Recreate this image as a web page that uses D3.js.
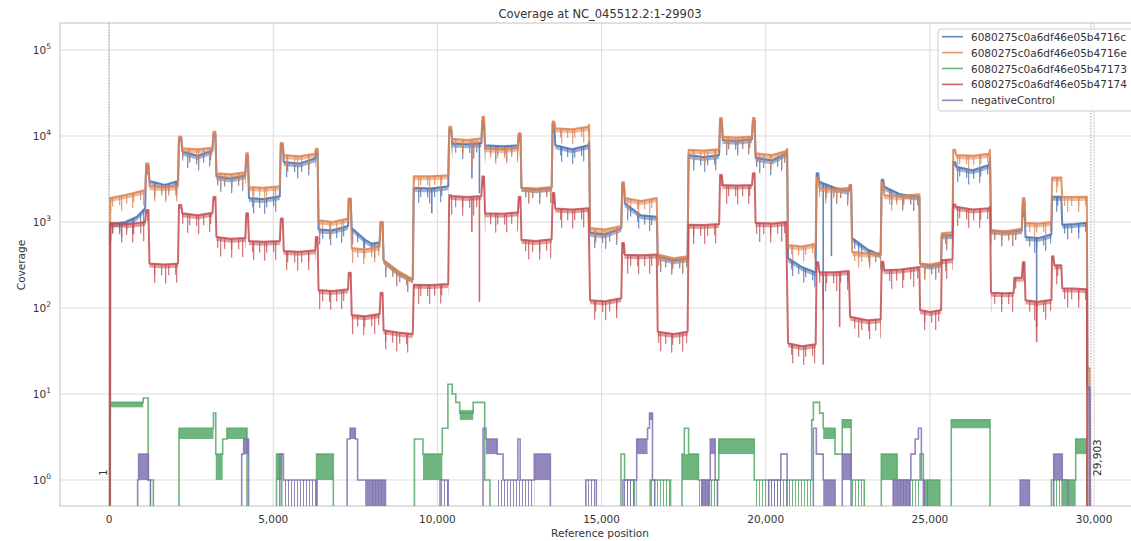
<!DOCTYPE html>
<html><head><meta charset="utf-8">
<script src="https://cdn.jsdelivr.net/npm/d3@7"></script>
<style>body{margin:0;background:#fff;} svg{display:block;font-family:"DejaVu Sans",sans-serif;}</style>
</head><body>
<svg id="c" width="1131" height="541"></svg>
<script>
// ---------------- DATA ----------------
const title = "Coverage at NC_045512.2:1-29903";
const xLabel = "Reference position";
const yLabel = "Coverage";
const seriesNames = ["6080275c0a6df46e05b4716c","6080275c0a6df46e05b4716e","6080275c0a6df46e05b47173","6080275c0a6df46e05b47174","negativeControl"];
const xTicks = [0,5000,10000,15000,20000,25000,30000];
const yTicks = [1,10,100,1000,10000,100000];
const refStart = 1, refEnd = 29903;

// [position, coverage]
const blueCov = [[1,0],[30,0],[35,950],[500,1000],[850,1150],[1100,1450],[1130,4500],[1200,4500],[1230,3000],[1700,2700],[2100,3000],[2130,9500],[2200,9500],[2230,6600],[2700,5900],[3150,6800],[3180,10500],[3240,10500],[3270,3400],[3700,3200],[4150,3500],[4180,5900],[4230,5900],[4260,1900],[4700,1850],[5200,2000],[5230,8000],[5290,8000],[5320,5000],[5800,4800],[6280,5500],[6300,6800],[6350,6800],[6380,820],[6800,800],[7280,900],[7300,1860],[7360,1860],[7390,850],[7800,620],[8000,560],[8240,580],[8270,1000],[8330,1000],[8360,360],[8800,260],[9250,215],[9280,2500],[9800,2450],[10330,2600],[10360,12000],[10420,12000],[10450,8200],[10900,8000],[11340,8300],[11370,15000],[11420,15000],[11450,7800],[12000,7600],[12450,7800],[12480,10500],[12530,10500],[12560,2500],[13000,2400],[13480,2500],[13510,14000],[13560,14000],[13590,7800],[14100,7000],[14600,7800],[14620,8500],[14650,750],[15100,720],[15600,850],[15630,2800],[15680,2800],[15710,1650],[16200,1200],[16680,1150],[16710,400],[17200,360],[17620,380],[17650,6000],[18100,5700],[18580,6000],[18610,15500],[18660,15500],[18690,9000],[19100,8800],[19580,9200],[19610,15000],[19660,15000],[19690,5600],[20200,5200],[20620,6300],[20650,7000],[20680,380],[21100,300],[21520,260],[21550,3700],[21600,3700],[21630,2940],[22100,2500],[22530,2300],[22560,2700],[22600,2700],[22630,650],[23100,480],[23500,415],[23530,3100],[23580,3100],[23610,2570],[24100,2100],[24680,1960],[24700,330],[25000,310],[25340,330],[25360,700],[25690,700],[25710,5000],[25770,5000],[25800,4400],[26300,4000],[26800,4600],[26830,5500],[26860,800],[27300,770],[27800,800],[27830,1700],[27880,1700],[27910,670],[28300,650],[28700,720],[28720,1960],[29000,1960],[29030,930],[29400,950],[29780,980],[29800,12],[29860,12],[29880,0],[29903,0]];

const orangeCov = [[1,0],[30,0],[35,1900],[600,2100],[1100,2350],[1130,4800],[1200,4800],[1230,2600],[1700,2550],[2100,2600],[2130,9800],[2200,9800],[2230,7200],[2700,7000],[3150,7300],[3180,11200],[3240,11200],[3270,3700],[3700,3600],[4150,3800],[4180,6300],[4230,6300],[4260,2550],[4700,2500],[5200,2600],[5230,8300],[5290,8300],[5320,6000],[5800,5800],[6280,6200],[6300,7100],[6350,7100],[6380,1050],[6800,1000],[7280,1100],[7300,1860],[7360,1860],[7390,500],[7800,480],[8240,520],[8270,1000],[8330,1000],[8360,360],[8800,270],[9250,215],[9280,3400],[9800,3400],[10330,3500],[10360,12800],[10420,12800],[10450,9300],[10900,9000],[11340,9400],[11370,16700],[11420,16700],[11450,7200],[12000,7000],[12450,7400],[12480,10800],[12530,10800],[12560,2500],[13000,2450],[13480,2550],[13510,14700],[13560,14700],[13590,12300],[14100,12000],[14600,12800],[14620,13500],[14650,850],[15100,820],[15600,900],[15630,2900],[15680,2900],[15710,1900],[16200,1750],[16680,1900],[16710,420],[17200,380],[17620,400],[17650,6900],[18100,6800],[18580,7000],[18610,16200],[18660,16200],[18690,9800],[19100,9600],[19580,9900],[19610,16200],[19660,16200],[19690,6300],[20200,6000],[20620,6700],[20650,7000],[20680,540],[21100,520],[21520,560],[21550,3300],[21600,3300],[21630,2500],[22100,2400],[22530,2500],[22560,2700],[22600,2700],[22630,450],[23100,430],[23500,440],[23530,2900],[23580,2900],[23610,2050],[24100,2000],[24680,2100],[24700,330],[25000,320],[25340,340],[25360,740],[25690,760],[25710,6900],[25770,6900],[25800,6000],[26300,5900],[26800,6200],[26830,6900],[26860,800],[27300,780],[27800,840],[27830,1900],[27880,1900],[27910,980],[28300,960],[28700,1000],[28720,3300],[29000,3300],[29030,1960],[29400,1950],[29780,1960],[29800,20],[29860,20],[29880,0],[29903,0]];

const redCov = [[1,0],[25,0],[30,980],[600,950],[1100,1000],[1130,1380],[1200,1380],[1230,330],[1700,320],[2100,330],[2130,1580],[2200,1580],[2230,1260],[2700,1200],[3150,1280],[3180,1950],[3240,1950],[3270,670],[3700,640],[4150,650],[4180,1260],[4230,1260],[4260,600],[4700,590],[5200,600],[5230,1100],[5290,1100],[5320,460],[5800,450],[6280,470],[6300,670],[6350,670],[6380,162],[6800,158],[7280,165],[7300,257],[7360,257],[7390,83],[7800,80],[8240,85],[8270,150],[8330,150],[8360,55],[8800,52],[9250,50],[9280,186],[9800,185],[10330,190],[10360,2040],[10420,2040],[10450,2000],[10900,1950],[11340,2000],[11370,3380],[11420,3380],[11450,1260],[12000,1250],[12450,1300],[12480,1960],[12530,1960],[12560,620],[13000,600],[13480,630],[13510,2170],[13560,2170],[13590,1440],[14100,1400],[14600,1450],[14650,123],[15100,120],[15600,130],[15630,570],[15680,570],[15710,415],[16200,410],[16680,420],[16710,53],[17200,50],[17620,53],[17650,930],[18100,920],[18580,950],[18610,3530],[18660,3530],[18690,2700],[19100,2650],[19580,2700],[19610,3700],[19660,3700],[19690,980],[20200,960],[20620,1000],[20680,39],[21100,36],[21520,38],[21550,340],[21600,340],[21630,263],[22100,260],[22530,270],[22570,79],[23100,72],[23500,74],[23530,345],[23580,345],[23610,275],[24100,280],[24680,300],[24700,95],[25000,90],[25340,95],[25360,360],[25690,370],[25710,1600],[25770,1600],[25800,1500],[26300,1400],[26800,1450],[26830,1500],[26860,150],[27300,148],[27550,150],[27570,225],[27800,225],[27830,340],[27880,340],[27910,123],[28300,118],[28700,125],[28720,400],[28760,400],[28790,315],[29000,315],[29030,170],[29400,168],[29780,165],[29790,0],[29903,0]];

// deep single-position dips [position, from, to]
const blueDips = [[9830,2500,1260],[11050,8000,3200],[11280,8300,2150],[21750,2800,95],[22000,2600,400],[28250,650,60]];
const orangeDips = [[11050,9000,4200]];
const redDips = [[11050,1950,770],[11280,2000,118],[21750,263,22],[22250,260,60],[28250,118,40]];

// low-coverage series: steps [start, end, value], filled bands [start, end, low, high], sparse 0/1 toggling [start, end]
const greenSteps = [[30,1040,8],[1040,1190,9],[1190,1350,1],[2130,3180,4],[3180,3250,6],[3250,3460,2],[3460,3590,3],[3590,4200,4],[5100,5260,2],[6320,6830,2],[9300,9560,3],[9560,10150,2],[10150,10320,4],[10320,10450,13],[10450,10560,10],[10560,10680,8],[10680,11090,6],[11090,11440,8],[11440,11600,1],[15590,15700,2],[15700,16000,1],[16480,17100,1],[17450,17520,2],[17520,17650,4],[17650,17950,2],[17950,18570,1],[18570,19650,3],[19650,21400,1],[21400,21450,5],[21450,21640,8],[21640,21750,6],[21750,22110,4],[22110,22330,2],[22330,22600,5],[22600,23000,1],[23520,24000,2],[24000,24700,1],[24700,24800,2],[24800,25300,1],[25650,26830,5],[28700,29440,1],[29440,29780,3]];
const greenBands = [[30,1040,7,8],[2130,3180,3,4],[3590,4200,3,4],[3250,3460,1,2],[5100,5260,1,2],[6330,6820,1,2],[9560,10150,1,2],[10680,11090,5,6.5],[17450,17950,1,2],[18570,19650,2,3],[21750,22110,3,4],[22330,22600,4,5],[23520,24000,1,2],[24800,25300,0,1],[25650,26830,4,5],[29000,29440,0,1],[29440,29780,2,3]];
const greenToggles = [[7950,8300],[15700,16000],[16480,17100],[17950,18570],[19650,21400],[22600,23000],[24000,24700],[28700,29000],[1190,1350]];

const purpleSteps = [[870,900,1],[900,1200,2],[1200,1260,1],[4040,4100,2],[4100,4250,3],[5200,5310,2],[5310,6330,1],[7250,7340,3],[7340,7500,4],[7500,7570,3],[7570,7740,1],[7740,8420,1],[10080,10330,1],[11390,11480,4],[11480,11820,3],[11820,12000,2],[12000,12450,1],[12450,12520,3],[12520,12950,1],[12950,13440,2],[14520,14840,1],[15650,16070,1],[16070,16400,3],[16400,16460,4],[16460,16550,6],[16550,16620,1],[18050,18310,1],[18310,18460,3],[18460,18530,1],[20090,20460,1],[20460,20650,2],[21450,21540,4],[21540,21750,2],[21750,22110,1],[22330,22600,2],[23880,24420,1],[24420,24550,2],[24550,24650,3],[24650,24740,4],[24740,24800,1],[27750,28030,1],[28770,29030,2],[29030,29200,1],[29810,29870,12]];
const purpleBands = [[900,1200,1,2],[4100,4250,2,3],[7340,7500,3,4],[7800,8410,0,1],[11480,11820,2,3],[12950,13440,1,2],[16070,16400,2,3],[16460,16550,5,6],[18050,18310,0,1],[18310,18460,2,3],[21750,22110,0,1],[22330,22600,1,2],[23880,24420,0,1],[27750,28030,0,1],[28770,29030,1,2]];
const purpleToggles = [[5310,6330],[10080,10330],[11820,12000],[12000,12950],[14520,14840],[15650,16070],[20090,20460],[24800,25000]];

// ---------------- LAYOUT / STYLE ----------------
const W = 1131, H = 541;
const L = 60, R = 1140, T = 23, B = 506;
const colors = ["#4C72B0","#DD8452","#55A868","#C44E52","#8172B3"];
const textColor = "#333";
const fs = 10.5;

const svg = d3.select("#c");
const x = d3.scaleLinear().domain([refStart - 1495, refEnd + 1495]).range([L, R]);
const y = d3.scaleLog().domain([Math.pow(10,-26/86), Math.pow(10, 5 + 27/86)]).range([B, T]);
const yPos = v => v > 0 ? y(v) : B + 10;

const defs = svg.append("defs");
defs.append("clipPath").attr("id","clip").append("rect").attr("x",L).attr("y",T).attr("width",R-L).attr("height",B-T);
function stripe(id, color, spacing, w, opacity){
  const p = defs.append("pattern").attr("id",id).attr("patternUnits","userSpaceOnUse")
    .attr("width",spacing).attr("height",40);
  p.append("rect").attr("x",0).attr("y",0).attr("width",w).attr("height",40).attr("fill",color).attr("fill-opacity",opacity);
}
colors.forEach((c,i)=>{
  stripe("a"+i, c, 7, 1.3, 0.75);
  stripe("b"+i, c, 11, 1.3, 0.75);
  stripe("t"+i, c, 3, 1, 0.85);
});

// grid
const g = svg.append("g");
g.selectAll(".vg").data(xTicks).join("line").attr("x1",d=>x(d)).attr("x2",d=>x(d)).attr("y1",T).attr("y2",B)
  .attr("stroke","#dcdcdc").attr("stroke-width",1.1);
g.selectAll(".hg").data(yTicks).join("line").attr("x1",L).attr("x2",R).attr("y1",d=>y(d)).attr("y2",d=>y(d))
  .attr("stroke","#dcdcdc").attr("stroke-width",1.1);
g.append("rect").attr("x",L).attr("y",T).attr("width",R-L).attr("height",B-T).attr("fill","none")
  .attr("stroke","#cccccc").attr("stroke-width",1.2);

[refStart, refEnd].forEach(p=>{
  g.append("line").attr("x1",x(p)).attr("x2",x(p)).attr("y1",T).attr("y2",B)
   .attr("stroke","#9a9a9a").attr("stroke-width",0.9).attr("stroke-dasharray","1.5,1.5");
});

const plot = svg.append("g").attr("clip-path","url(#clip)");
const line = d3.line().x(d=>x(d[0])).y(d=>yPos(d[1]));

function highSeries(data, i, dShort, dMid, dLong){
  const mk = dd => d3.area().defined(d=>d[1]>0).x(d=>x(d[0])).y0(d=>yPos(d[1])).y1(d=>yPos(d[1])+dd);
  plot.append("path").datum(data).attr("d",mk(dLong)).attr("fill","url(#b"+i+")");
  plot.append("path").datum(data).attr("d",mk(dMid)).attr("fill","url(#a"+i+")");
  plot.append("path").datum(data).attr("d",mk(dShort)).attr("fill",colors[i]).attr("fill-opacity",0.55);
  plot.append("path").datum(data).attr("d",line).attr("fill","none").attr("stroke",colors[i])
    .attr("stroke-width",2).attr("stroke-opacity",0.85).attr("stroke-linejoin","round");
}
function dips(data, i){
  plot.selectAll(null).data(data).join("line").attr("x1",d=>x(d[0])).attr("x2",d=>x(d[0]))
    .attr("y1",d=>yPos(d[1])).attr("y2",d=>yPos(d[2])).attr("stroke",colors[i]).attr("stroke-width",1.6).attr("stroke-opacity",0.85);
}
function lowSeries(steps, bands, toggles, i){
  const pts = [];
  steps.slice().sort((a,b)=>a[0]-b[0]).forEach((s,k,arr)=>{
    const prev = arr[k-1];
    if (!prev || prev[1] < s[0]) pts.push([s[0],0]);
    pts.push([s[0],s[2]]); pts.push([s[1],s[2]]);
    const next = arr[k+1];
    if (!next || next[0] > s[1]) pts.push([s[1],0]);
  });
  plot.selectAll(null).data(toggles).join("rect").attr("x",d=>x(d[0])).attr("width",d=>x(d[1])-x(d[0]))
    .attr("y",y(1)).attr("height",B-y(1)).attr("fill","url(#t"+i+")");
  plot.selectAll(null).data(bands).join("rect").attr("x",d=>x(d[0])).attr("width",d=>Math.max(1,x(d[1])-x(d[0])))
    .attr("y",d=>yPos(d[3])).attr("height",d=>Math.min(B+10,yPos(d[2]))-yPos(d[3])).attr("fill",colors[i]).attr("fill-opacity",0.85);
  plot.append("path").datum(pts).attr("d",line).attr("fill","none").attr("stroke",colors[i])
    .attr("stroke-width",1.6).attr("stroke-opacity",0.85);
}

highSeries(blueCov, 0, 4, 9, 15); dips(blueDips, 0);
highSeries(orangeCov, 1, 4, 9, 15); dips(orangeDips, 1);
lowSeries(greenSteps, greenBands, greenToggles, 2);
highSeries(redCov, 3, 4, 11, 19); dips(redDips, 3);
lowSeries(purpleSteps, purpleBands, purpleToggles, 4);

// axes labels
g.selectAll(".xt").data(xTicks).join("text").attr("x",d=>x(d)).attr("y",523).attr("text-anchor","middle")
  .attr("font-size",fs).attr("fill",textColor).text(d=>d3.format(",")(d));
const yt = svg.append("g").selectAll("text").data(yTicks).join("text").attr("x",51).attr("y",d=>y(d)+4)
  .attr("text-anchor","end").attr("font-size",fs).attr("fill",textColor);
yt.append("tspan").text("10");
yt.append("tspan").attr("dy",-5).attr("font-size",7.5).text(d=>Math.round(Math.log10(d)));

svg.append("text").attr("x",(L+R)/2).attr("y",537).attr("text-anchor","middle").attr("font-size",fs).attr("fill",textColor).text(xLabel);
svg.append("text").attr("transform","translate(25,265) rotate(-90)").attr("text-anchor","middle").attr("font-size",fs).attr("fill",textColor).text(yLabel);
svg.append("text").attr("x",(L+R)/2).attr("y",18).attr("text-anchor","middle").attr("font-size",11.5).attr("fill",textColor).text(title);

svg.append("text").attr("transform",`translate(${x(refStart)-2},476) rotate(-90)`).attr("text-anchor","start")
  .attr("font-size",fs).attr("fill",textColor).text(d3.format(",")(refStart));
svg.append("text").attr("transform",`translate(${x(refEnd)+10},476) rotate(-90)`).attr("text-anchor","start")
  .attr("font-size",fs).attr("fill",textColor).text(d3.format(",")(refEnd));

// legend
const lg = svg.append("g");
lg.append("rect").attr("x",938).attr("y",29).attr("width",200).attr("height",82).attr("rx",3)
  .attr("fill","#fff").attr("fill-opacity",0.85).attr("stroke","#cccccc");
seriesNames.forEach((n,i)=>{
  const yy = 36.7 + i*15.9;
  lg.append("line").attr("x1",942).attr("x2",963).attr("y1",yy).attr("y2",yy).attr("stroke",colors[i]).attr("stroke-width",1.6).attr("stroke-opacity",0.85);
  lg.append("text").attr("x",971).attr("y",yy+4).attr("font-size",fs).attr("fill",textColor).text(n);
});
</script>
</body></html>
